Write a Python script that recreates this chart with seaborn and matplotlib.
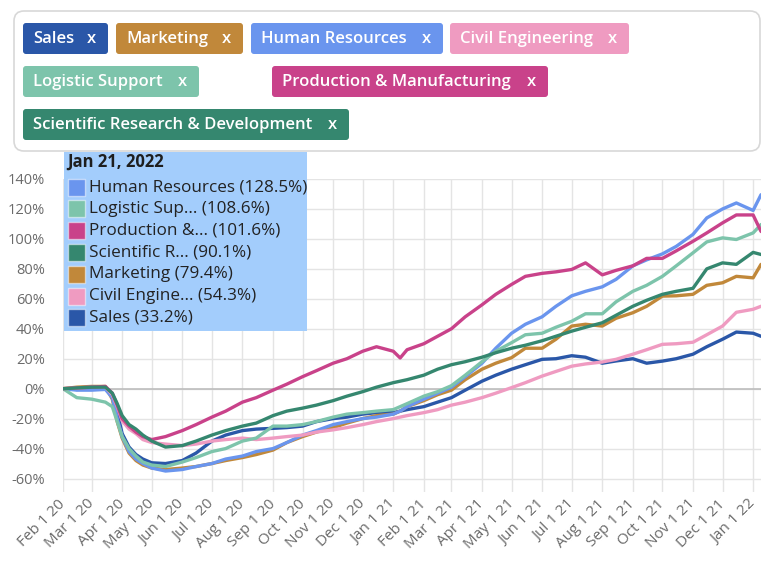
import matplotlib
matplotlib.use("Agg")
import matplotlib.pyplot as plt
import matplotlib.dates as mdates
from matplotlib.patches import FancyBboxPatch, Rectangle
from matplotlib.ticker import FuncFormatter, MultipleLocator
import pandas as pd
import seaborn as sns

# values (% change vs Feb 1 2020)
dates = ["2020-02-01", "2020-02-15", "2020-03-01", "2020-03-15", "2020-03-22",
         "2020-03-27", "2020-04-01", "2020-04-08", "2020-04-15", "2020-04-22",
         "2020-05-01", "2020-05-15", "2020-06-01", "2020-06-15", "2020-07-01",
         "2020-07-15", "2020-08-01", "2020-08-15", "2020-09-01", "2020-09-15",
         "2020-10-01", "2020-10-15", "2020-11-01", "2020-11-15", "2020-12-01",
         "2020-12-15", "2021-01-01", "2021-01-08", "2021-01-15", "2021-02-01",
         "2021-02-15", "2021-03-01", "2021-03-15", "2021-04-01", "2021-04-15",
         "2021-05-01", "2021-05-15", "2021-06-01", "2021-06-15", "2021-07-01",
         "2021-07-15", "2021-08-01", "2021-08-15", "2021-09-01", "2021-09-15",
         "2021-10-01", "2021-10-15", "2021-11-01", "2021-11-15", "2021-12-01",
         "2021-12-15", "2022-01-01", "2022-01-09", "2022-01-21"]

sales = [0, -0.5, 0, 0.5, -4, -16, -30, -39, -44, -47,
         -49.5, -50, -48, -43, -35, -31, -28, -27, -26.5, -26,
         -25, -22, -20, -19, -17, -16, -16, -15, -14, -12,
         -9, -6, -1, 5, 9, 13, 16, 19.6, 20, 22,
         21, 17, 18.5, 20, 17, 18.4, 20, 23, 28, 33,
         37.8, 37, 35, 33.2]
marketing = [0, 1, 1.5, 1.5, -7, -22, -33, -43, -48, -51,
             -53, -54, -53, -52, -50, -48, -46, -44, -41, -36,
             -32, -29, -26, -23, -20, -18, -17, -15, -12, -8,
             -4, -1, 6, 13, 17, 20.7, 27, 27, 33, 41.8,
             43, 41.8, 47, 50.7, 55, 61.8, 62, 63, 69, 70.7,
             75, 74, 83, 79.4]
human_resources = [0, -1, -1, -0.5, -6, -20, -32, -42, -47, -50,
                   -53, -55, -54, -52, -50, -47, -45, -42, -40, -36,
                   -31, -28, -24, -22, -20, -19, -17, -15, -12, -7,
                   -3, 1, 8, 17, 27, 37, 43, 48, 55, 62,
                   65, 68, 73, 82, 86, 90, 95, 103, 114, 120,
                   124, 119, 129.5, 128.5]
civil_engineering = [0, 0.5, 1, 1, -4, -12, -21.5, -27, -30, -34,
                     -36, -37, -38, -37, -35, -34, -33, -34, -33, -32,
                     -31, -29, -27.5, -26, -24, -22, -20, -19, -18, -16,
                     -14, -11, -9, -6, -3, 0.7, 4, 8.4, 11.5, 15,
                     16.5, 17.8, 19.6, 23, 26, 29.6, 30, 31, 36, 41.8,
                     51, 53, 55, 54.3]
logistic_support = [0, -6, -7, -9, -12, -22, -32, -40, -45, -49,
                    -51, -52, -49, -46, -42, -40, -35, -33, -25, -25,
                    -24, -22, -19, -17, -16, -15, -14, -12, -10, -5,
                    -2, 2, 9, 18, 25, 30.7, 36, 37, 41, 45,
                    50, 50, 58, 65, 69, 75, 82, 90.7, 98, 100.7,
                    99.6, 104, 109.6, 108.6]
production = [0, 0.5, 1, 1.5, -3, -11, -20, -25, -29, -32,
              -34, -32, -28, -24, -19, -15, -9, -6, -1, 3,
              8, 12, 17, 20, 25, 28, 25, 20.5, 26, 30,
              35, 40, 48, 56, 63, 69.6, 75, 77, 78, 79.6,
              84, 76, 79, 82, 87, 87, 92, 98.4, 104, 110.7,
              116, 116, 105, 101.6]
scientific = [0, 0.5, 1, 1, -3, -10, -18, -24, -27, -31,
              -35, -39, -38, -35, -31, -28, -25, -23, -18, -15,
              -13, -11, -8, -5, -2, 1, 4, 5, 6, 9,
              13, 16, 18, 21, 24, 27, 29, 32, 35, 38.4,
              41, 44, 49, 55, 59, 63, 65, 67, 80, 84,
              83, 91, 89.6, 90.1]

names = ["Sales", "Marketing", "Human Resources", "Civil Engineering",
         "Logistic Support", "Production & Manufacturing",
         "Scientific Research & Development"]
colors = ["#2a57a8", "#c1883a", "#6a95ee", "#ef9bc1", "#7dc4ab", "#c9428a", "#35876f"]
palette = dict(zip(names, colors))

wide = pd.DataFrame({"date": pd.to_datetime(dates)})
for name, vals in zip(names, [sales, marketing, human_resources, civil_engineering,
                              logistic_support, production, scientific]):
    wide[name] = vals
long = wide.melt(id_vars="date", var_name="dept", value_name="pct")

sns.set_theme(style="white")
plt.rcParams["font.family"] = ["Open Sans", "DejaVu Sans"]

W, H = 761, 561
fig = plt.figure(figsize=(W / 100, H / 100), dpi=100)
fig.patch.set_facecolor("white")

# plot area in pixels: x 63..761, y 179..492
ax = fig.add_axes([63 / W, 1 - 492 / H, (W - 63) / W, (492 - 179) / H])
sns.lineplot(data=long, x="date", y="pct", hue="dept", hue_order=names,
             palette=palette, linewidth=2.4, legend=False, ax=ax, zorder=3)

ax.set_xlim(pd.Timestamp("2020-02-01"), pd.Timestamp("2022-01-09"))
ax.set_ylim(-69, 140)
ax.yaxis.set_major_locator(MultipleLocator(20))
ax.yaxis.set_major_formatter(FuncFormatter(lambda v, p: f"{v:.0f}%"))
ax.xaxis.set_major_locator(mdates.MonthLocator())
ax.xaxis.set_major_formatter(FuncFormatter(
    lambda v, p: (lambda d: f"{d:%b} {d.day} {d:%y}")(mdates.num2date(v))))
ax.grid(True, color="#e4e4e4", linewidth=1)
ax.axhline(0, color="#bdbdbd", linewidth=1.2, zorder=2)
for s in ax.spines.values():
    s.set_visible(False)
ax.set_xlabel("")
ax.set_ylabel("")
ax.tick_params(axis="y", length=0, pad=13, labelsize=10.5, labelcolor="#6b6b6b")
ax.tick_params(axis="x", length=0, pad=7, labelsize=11, labelcolor="#6b6b6b")
for lab in ax.get_xticklabels():
    lab.set_rotation(45)
    lab.set_ha("right")
    lab.set_va("center")
    lab.set_rotation_mode("anchor")

# overlay in pixel coordinates for the filter chips and hover box
ov = fig.add_axes([0, 0, 1, 1], zorder=5)
ov.set_xlim(0, W)
ov.set_ylim(H, 0)
ov.axis("off")
ov.patch.set_alpha(0)

ov.add_patch(FancyBboxPatch((14, 11), 746, 140, boxstyle="round,pad=0,rounding_size=10",
                            fc="white", ec="#d8d8d8", lw=1.2))
chips = [(0, 23, 108, 23), (1, 116, 243, 23), (2, 251, 443, 23), (3, 450, 629, 23),
         (4, 23, 199, 66), (5, 272, 548, 66), (6, 23, 349, 109)]
for i, x0, x1, y0 in chips:
    ov.add_patch(FancyBboxPatch((x0, y0), x1 - x0, 31, boxstyle="round,pad=0,rounding_size=3",
                                fc=colors[i], ec="none"))
    ov.text(x0 + 10, y0 + 15.5, names[i], color="white", fontsize=12,
            fontweight="semibold", va="center", ha="left")
    ov.text(x1 - 17, y0 + 16, "x", color="white", fontsize=12,
            fontweight="semibold", va="center", ha="center")

# hover tooltip
ov.add_patch(Rectangle((64, 152), 243, 179, fc="#a3cdfc", ec="none"))
ov.text(67, 162, "Jan 21, 2022", fontsize=12, fontweight="bold", color="#1e1e1e",
        va="center", ha="left")
tip_labels = ["Human Resources (128.5%)", "Logistic Sup... (108.6%)",
              "Production &... (101.6%)", "Scientific R... (90.1%)",
              "Marketing (79.4%)", "Civil Engine... (54.3%)", "Sales (33.2%)"]
tip_colors = [colors[2], colors[4], colors[5], colors[6], colors[1], colors[3], colors[0]]
for k, (lab, col) in enumerate(zip(tip_labels, tip_colors)):
    cy = 187 + 21.8 * k
    ov.add_patch(Rectangle((68, cy - 8.5), 17, 17, fc=col, ec=(1, 1, 1, 0.5), lw=1))
    ov.text(89, cy, lab, fontsize=12.3, color="#222222", va="center", ha="left")

fig.savefig("out.png", dpi=100, facecolor="white")
